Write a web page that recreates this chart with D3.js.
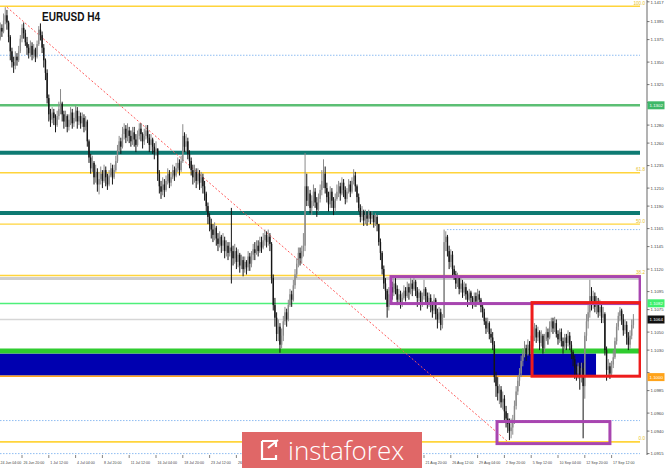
<!DOCTYPE html>
<html><head><meta charset="utf-8">
<script src="https://cdn.jsdelivr.net/npm/d3@7"></script>
<style>html,body{margin:0;padding:0;background:#fff;}svg{display:block;}</style>
</head><body><svg id="c" width="665" height="468"></svg>
<script>
// ---- DATA (prices in 1e-4 units, EURUSD H4, bar 0 = 24 Jun 04:00) ----
const firstOpen = 11366;
const closes = [
11372,11380,11376,11388,11384,11396,11402,11394,11378,11362,
11350,11346,11356,11352,11362,11376,11388,11382,11372,11366,
11360,11368,11358,11364,11356,11370,11386,11380,11366,11352,
11338,11310,11292,11286,11294,11288,11280,11290,11298,11304,
11292,11284,11290,11278,11286,11294,11282,11288,11296,11284,
11290,11282,11288,11278,11284,11262,
11244,11232,11238,11222,11228,11214,11220,
11226,11218,11230,11222,11214,11224,11232,11222,11230,11240,
11252,11262,11256,11270,11276,11266,11274,11268,
11262,11272,11264,11258,11268,11276,11270,11262,11268,11274,
11266,11258,11264,11256,11250,11254,
11226,11212,11206,11214,11208,11218,
11226,11216,11222,11230,11224,11232,11238,11230,11240,
11268,11256,11262,11248,11240,
11230,11222,11228,11218,11226,11216,11222,11212,11204,
11190,11178,11170,11164,11158,11166,11154,11148,11156,11146,
11152,11140,11146,11138,11144,
11140,
11132,11140,11128,11136,11124,11130,11120,11128,11122,11134,
11126,11136,11142,
11138,11146,11140,11150,11144,11152,11158,11150,11156,11148,
11110,11080,11066,11048,11056,11036,11046,11062,
11072,11064,11080,11092,11086,11102,11114,11126,11138,11132,11140,11146,
11212,
11196,11204,11188,11196,11206,11194,11186,11198,11208,11218,
11226,11210,11200,11192,11206,11196,11188,11198,11206,
11212,11204,11216,11208,11198,11206,11214,11206,11218,11224,11212,11200,
11188,11178,11184,11174,11180,11176,
11182,11176,11180,11172,11178,11170,
11150,11138,11120,11104,11096,11078,11092,11100,
11094,11104,11098,11086,11092,11080,11088,11096,11090,11100,
11094,11104,11098,11106,11096,11088,11094,11082,11090,11098,
11090,11082,11088,11080,
11074,11086,11070,11064,11072,11058,11066,
11150,
11156,11140,11128,11136,11120,
11114,11104,11110,11098,11104,11094,
11100,11092,11086,11094,11088,11080,11090,11084,11092,11086,11078,11072,
11062,11054,11060,11048,11044,11036,
11000,10990,10982,
10986,10972,10976,10962,10954,10948,10940,10944,10952,
10968,10984,10996,11004,11018,11026,
11032,11026,11036,11030,11040,11046,
11054,11044,11050,11038,11046,11032,11042,11050,11044,11056,
11062,11054,11060,11048,11042,11050,11040,11034,11044,11038,
11046,11036,11028,
11020,11010,11004,11012,11002,11010,
10990,11046,11062,11072,11090,11082,11090,
11078,11084,11072,11078,11066,11070,
11030,11008,
11012,11004,11014,11022,
11040,11056,11068,11074,
11064,11052,11058,11044,11036,
11046,11058,11064];
const highs = [
11382,11388,11386,11394,11392,11404,11411,11408,11396,11380,
11366,11356,11362,11360,11368,11380,11392,11394,11386,11378,
11370,11374,11372,11370,11366,11374,11390,11393,11384,11370,
11354,11342,11314,11298,11300,11298,11292,11296,11306,11320,
11306,11296,11296,11292,11292,11300,11298,11294,11302,11300,
11296,11294,11294,11292,11290,11286,
11264,11248,11246,11240,11236,11232,11228,
11234,11230,11236,11234,11226,11230,11238,11236,11236,11246,
11258,11268,11266,11278,11282,11280,11282,11278,
11274,11278,11278,11270,11274,11282,11282,11272,11276,11280,
11280,11270,11270,11266,11260,11262,
11254,11230,11218,11222,11220,11224,
11232,11230,11228,11236,11234,11238,11244,11242,11246,
11281,11272,11270,11266,11252,
11244,11236,11236,11232,11232,11230,11228,11226,11218,
11206,11194,11182,11176,11170,11172,11168,11160,11162,11158,
11160,11156,11152,11150,11150,
11188,
11146,11148,11144,11142,11138,11136,11134,11134,11130,11140,
11138,11140,11148,
11150,11152,11152,11156,11156,11160,11164,11162,11164,11160,
11150,11114,11088,11072,11064,11060,11054,11068,
11078,11076,11086,11098,11096,11108,11120,11132,11144,11144,11146,11160,
11249,
11226,11212,11208,11202,11214,11210,11200,11204,11214,11230,
11242,11234,11216,11206,11212,11210,11200,11204,11214,
11218,11216,11222,11220,11212,11210,11220,11218,11222,11231,11228,11214,
11204,11192,11190,11186,11186,11184,
11186,11184,11184,11180,11182,11180,
11170,11154,11140,11124,11110,11098,11100,11106,
11106,11110,11110,11102,11098,11096,11094,11102,11100,11106,
11104,11110,11108,11110,11108,11100,11098,11096,11094,11108,
11100,11094,11094,11092,
11084,11092,11088,11076,11078,11076,11070,
11164,
11162,11158,11146,11142,11140,
11124,11118,11116,11112,11110,11108,
11106,11104,11096,11098,11096,11090,11094,11094,11098,11096,11088,11082,
11076,11066,11066,11062,11054,11050,
11040,11006,11000,
10992,10990,10984,10980,10968,10960,10954,10954,10958,
10974,10990,11002,11010,11024,11032,
11040,11036,11042,11040,11046,11056,
11060,11058,11056,11052,11052,11048,11048,11056,11054,11062,
11066,11066,11067,11064,11052,11054,11054,11044,11048,11048,
11052,11050,11040,
11030,11024,11014,11016,11016,11016,
11016,11050,11070,11080,11108,11100,11096,
11094,11090,11088,11086,11082,11078,
11072,11034,
11020,11016,11018,11030,
11044,11060,11072,11078,
11076,11070,11064,11062,11050,
11052,11064,11070];
const lows = [
11364,11368,11370,11374,11378,11382,11392,11386,11372,11352,
11344,11338,11342,11346,11350,11360,11372,11376,11368,11358,
11354,11356,11352,11354,11350,11354,11368,11374,11360,11344,
11330,11304,11284,11278,11282,11280,11272,11278,11286,11292,
11284,11276,11278,11272,11274,11280,11276,11278,11284,11276,
11280,11276,11278,11272,11274,11256,
11238,11226,11228,11214,11216,11206,11203,
11214,11210,11216,11212,11208,11212,11222,11214,11220,11228,
11238,11250,11248,11254,11264,11260,11262,11260,
11256,11258,11256,11250,11256,11264,11262,11254,11258,11264,
11260,11250,11252,11248,11242,11246,
11218,11204,11198,11202,11200,11206,
11214,11210,11212,11220,11218,11222,11228,11224,11228,
11238,11250,11250,11242,11232,
11224,11214,11216,11210,11214,11208,11210,11204,11196,
11184,11170,11162,11154,11150,11152,11146,11140,11144,11138,
11140,11132,11134,11130,11134,
11104,
11124,11126,11120,11122,11116,11120,11112,11116,11114,11118,
11118,11122,11130,
11130,11136,11134,11138,11138,11142,11146,11144,11146,11140,
11104,11074,11056,11040,11040,11027,11032,11040,
11058,11056,11062,11078,11078,11084,11098,11110,11122,11124,11126,11134,
11140,
11190,11190,11182,11180,11190,11188,11178,11184,11194,11202,
11210,11204,11194,11184,11188,11188,11180,11184,11196,
11200,11196,11202,11200,11192,11194,11204,11200,11204,11214,11206,11194,
11184,11172,11174,11168,11170,11168,
11172,11170,11172,11166,11168,11162,
11146,11130,11114,11098,11086,11066,11074,11088,
11086,11090,11092,11080,11082,11076,11078,11086,11084,11088,
11086,11092,11090,11096,11090,11078,11084,11074,11078,11086,
11082,11076,11078,11072,
11066,11070,11064,11054,11060,11052,11054,
11066,
11140,11134,11120,11122,11112,
11108,11098,11100,11092,11094,11088,
11090,11086,11078,11084,11082,11076,11078,11078,11082,11080,11072,11066,
11058,11048,11050,11042,11038,11030,
10994,10978,10974,
10970,10966,10964,10952,10944,10938,10930,10932,10936,
10948,10964,10980,10990,11000,11012,
11022,11018,11024,11024,11028,11034,
11040,11038,11040,11030,11034,11026,11028,11040,11036,11042,
11050,11048,11050,11044,11036,11038,11034,11026,11030,11030,
11034,11030,11020,
11012,10998,10996,10998,10986,10994,
10932,10976,11040,11054,11066,11074,11076,
11072,11070,11066,11068,11060,11060,
11024,10996,
11000,10998,11002,11010,
11020,11036,11052,11062,
11058,11046,11048,11036,11030,
11032,11042,11054];

const dateLabels = ["24 Jun 04:00","26 Jun 20:00","1 Jul 12:00","4 Jul 04:00","8 Jul 20:00","11 Jul 12:00",
"16 Jul 04:00","18 Jul 20:00","23 Jul 12:00","26 Jul 04:00","30 Jul 20:00","2 Aug 12:00","7 Aug 04:00",
"9 Aug 20:00","14 Aug 12:00","19 Aug 04:00","21 Aug 20:00","26 Aug 12:00","29 Aug 04:00","2 Sep 20:00",
"5 Sep 12:00","10 Sep 04:00","12 Sep 20:00","17 Sep 12:00"];
const barsPerLabel = 16;
const priceTicks = [1.1417,1.1395,1.1375,1.1350,1.1325,1.1305,1.1280,1.1260,1.1235,1.1210,1.1190,1.1165,
1.1145,1.1120,1.1095,1.1075,1.1050,1.1030,1.1005,1.0985,1.0960,1.0940,1.0915];

const fibHigh = 1.1412, fibLow = 1.0928;
const fibRatios = [0, 38.2, 50.0, 61.8, 100.0];
const tealLevels = [1.12494, 1.11824];
const greenLevel = 1.1302;
const limeLevel = 1.10817;
const grayLevel = 1.11094;
const bidLevel = 1.1064;
const greenBandLevel = 1.10289;
const orangeLevel = 1.1001;
const dottedLevels = [[1.13576, -5], [1.11639, 269.7], [1.11094, 356], [1.10828, 322], [1.09517, -5], [1.0915, -5]];
const blueZone = [-5, 358.7, 1.10262, 1.10017];
const redBox = [320.5, 385, 1.10828, 1.1001];
const purpleBoxes = [[236.3, 385, 1.11117, 1.10817], [299.6, 367, 1.09506, 1.09261]];
const trendLine = [[7, 1.1411], [305.5, 1.0929]];
const priceTags = [[1.1302, "1.1302"], [1.1082, "1.1082"], [1.1064, "1.1064"], [1.1000, "1.1000"]];

// ---- DRAW ----
const svg = d3.select('#c');
const y = d3.scaleLinear().domain([1.1419, 1.0899]).range([0, 468]);
const x = d3.scaleLinear().domain([0, 16]).range([-4.8, 22]);
const P = v => v / 10000;
const plotR = 641, plotB = 455, axisX = 647;
const logoBox = { x: 242, y: 432, w: 180, h: 36 };

svg.append('rect').attr('width', 665).attr('height', 468).attr('fill', '#fff');
svg.append('defs').append('clipPath').attr('id', 'clip').append('rect')
  .attr('x', 0).attr('y', 0).attr('width', plotR).attr('height', plotB);
const g = svg.append('g').attr('clip-path', 'url(#clip)');
const hline = (p, x0, stroke, w, dash) => {
  const l = g.append('line').attr('x1', x0).attr('x2', plotR - 1).attr('y1', y(p)).attr('y2', y(p))
    .attr('stroke', stroke).attr('stroke-width', w);
  if (dash) l.attr('stroke-dasharray', dash);
  return l;
};

// blue zone
g.append('rect').attr('x', x(blueZone[0])).attr('width', x(blueZone[1]) - x(blueZone[0]))
  .attr('y', y(blueZone[2])).attr('height', y(blueZone[3]) - y(blueZone[2])).attr('fill', '#0000b0');

// dotted levels
dottedLevels.forEach(([p, b]) => hline(p, Math.max(0, x(b)), '#8fbdf2', 1, '1.5,1.5'));
// fib lines
fibRatios.forEach(r => hline(fibLow + (fibHigh - fibLow) * r / 100, 0, '#ffd43b', r === 0 ? 1.6 : 1.4));
hline(grayLevel + 0.00002, 0, '#cfcfcf', 3);
hline(greenLevel, 0, '#5cbf74', 2.4);
tealLevels.forEach(p => hline(p, 0, '#0e7a72', 4));
hline(limeLevel, 0, '#4ef07a', 1.6);
hline(bidLevel, 0, '#d6d6d6', 1.4);
hline(greenBandLevel, 0, '#2fcc2f', 5);
hline(orangeLevel, 0, '#ffa31a', 1.4);

// trend line
g.append('line').attr('x1', x(trendLine[0][0])).attr('y1', y(trendLine[0][1]))
  .attr('x2', x(trendLine[1][0])).attr('y2', y(trendLine[1][1]))
  .attr('stroke', '#ff5a5a').attr('stroke-width', 1).attr('stroke-dasharray', '2,2');

// candles
const bars = closes.map((c, i) => ({ i, o: i ? closes[i - 1] : firstOpen, c, h: highs[i], l: lows[i] }));
const col = d => d.c >= d.o ? '#8a8a8a' : '#151515';
g.append('g').selectAll('line').data(bars).join('line')
  .attr('x1', d => x(d.i)).attr('x2', d => x(d.i))
  .attr('y1', d => y(P(Math.max(d.h, d.o, d.c)))).attr('y2', d => y(P(Math.min(d.l, d.o, d.c))))
  .attr('stroke', col).attr('stroke-width', 1);
g.append('g').selectAll('rect').data(bars).join('rect')
  .attr('x', d => x(d.i) - 0.7).attr('width', 1.4)
  .attr('y', d => y(P(Math.max(d.o, d.c)))).attr('height', d => Math.max(0.8, Math.abs(y(P(d.o)) - y(P(d.c)))))
  .attr('fill', col);

// boxes
purpleBoxes.forEach(([b0, b1, p0, p1]) => g.append('rect')
  .attr('x', x(b0)).attr('width', x(b1) - x(b0)).attr('y', y(p0)).attr('height', y(p1) - y(p0))
  .attr('fill', 'none').attr('stroke', '#a845b0').attr('stroke-width', 3));
g.append('rect').attr('x', x(redBox[0])).attr('width', x(redBox[1]) - x(redBox[0]))
  .attr('y', y(redBox[2])).attr('height', y(redBox[3]) - y(redBox[2]))
  .attr('fill', 'none').attr('stroke', '#ee1c1c').attr('stroke-width', 3);

// fib labels
fibRatios.forEach(r => svg.append('text').attr('x', axisX - 2).attr('y', y(fibLow + (fibHigh - fibLow) * r / 100) - 1.5)
  .attr('text-anchor', 'end').attr('font-family', 'Liberation Sans').attr('font-size', 4.6).attr('fill', '#e8c22a')
  .text(r.toFixed(1)));

// right axis
svg.append('line').attr('x1', axisX).attr('x2', axisX).attr('y1', 0).attr('y2', plotB)
  .attr('stroke', '#9a9a9a').attr('stroke-width', 1.5);
const ya = svg.append('g');
priceTicks.forEach(v => {
  ya.append('line').attr('x1', axisX).attr('x2', axisX + 2.5).attr('y1', y(v)).attr('y2', y(v)).attr('stroke', '#555').attr('stroke-width', 0.8);
  const hidden = priceTags.some(([t]) => Math.abs(y(t) - y(v)) < 6);
  if (!hidden) ya.append('text').attr('x', axisX + 3.5).attr('y', Math.max(3.6, y(v) + 1.6)).attr('font-family', 'Liberation Sans')
    .attr('font-size', 4.3).attr('fill', '#444').text(v.toFixed(4));
});
const tagColors = ['#3fb869', '#3ff06e', '#111111', '#ffa31a'];
priceTags.forEach(([v, s], k) => {
  ya.append('rect').attr('x', axisX + 0.5).attr('y', y(v) - 4).attr('width', 17).attr('height', 8).attr('fill', tagColors[k]);
  ya.append('text').attr('x', axisX + 2.5).attr('y', y(v) + 1.7).attr('font-family', 'Liberation Sans')
    .attr('font-size', 4.4).attr('fill', '#fff').text(s);
});

// bottom axis
const xa = svg.append('g');
dateLabels.forEach((s, k) => {
  const xx = x(k * barsPerLabel);
  xa.append('line').attr('x1', xx).attr('x2', xx).attr('y1', plotB).attr('y2', plotB + 3).attr('stroke', '#666').attr('stroke-width', 0.8);
  const covered = xx > logoBox.x && xx + 22 < logoBox.x + logoBox.w;
  if (!covered) xa.append('text').attr('x', Math.max(0.5, xx + 1.5)).attr('y', 463.5).attr('font-family', 'Liberation Sans').attr('font-size', 3.6)
    .attr('fill', '#444').text(s);
});

// title
svg.append('text').attr('x', 42).attr('y', 20.5).attr('font-family', 'Liberation Sans').attr('font-weight', 'bold')
  .attr('font-size', 13.5).attr('fill', '#111').attr('textLength', 58).attr('lengthAdjust', 'spacingAndGlyphs').text('EURUSD H4');

// logo
const logo = svg.append('g');
logo.append('rect').attr('x', logoBox.x).attr('y', logoBox.y).attr('width', logoBox.w).attr('height', logoBox.h).attr('fill', '#e06767');
logo.append('path').attr('d', 'M262,441 h14 v6 M276,455 v4 h-14 v-18 M268,448 l10,-8').attr('fill', 'none')
  .attr('stroke', '#fff').attr('stroke-width', 2.2);
logo.append('text').attr('x', 288).attr('y', 460).attr('font-family', 'Open Sans').attr('font-weight', 300)
  .attr('font-size', 26).attr('fill', '#fff').text('instaforex');
</script></body></html>
